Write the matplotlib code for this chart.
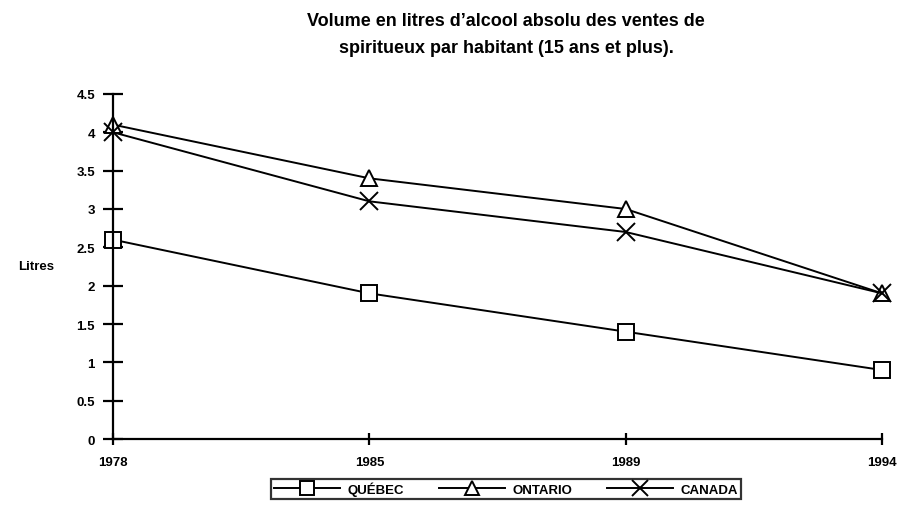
import matplotlib
matplotlib.use("Agg")
import matplotlib.pyplot as plt

plt.rcParams['font.family'] = ['Liberation Sans', 'DejaVu Sans']
plt.rcParams['font.weight'] = 'bold'

years = ['1978', '1985', '1989', '1994']
quebec = [2.6, 1.9, 1.4, 0.9]
ontario = [4.1, 3.4, 3.0, 1.9]
canada = [4.0, 3.1, 2.7, 1.9]

fig = plt.figure(figsize=(9.02, 5.06), dpi=100)
ax = fig.add_axes([0.1253, 0.1304, 0.8525, 0.6819])

x = range(len(years))
style = dict(color='black', lw=1.4, markerfacecolor='white',
             markeredgecolor='black', markeredgewidth=1.4, clip_on=False)
ax.plot(x, quebec, marker='s', markersize=12, label='QUÉBEC', **style)
ax.plot(x, ontario, marker='^', markersize=12, label='ONTARIO', **style)
ax.plot(x, canada, marker='x', markersize=13, label='CANADA', **style)

ax.set_xlim(0, 3)
ax.set_ylim(0, 4.5)
ax.set_xticks(list(x))
ax.set_xticklabels(years)
ax.set_yticks([0, 0.5, 1, 1.5, 2, 2.5, 3, 3.5, 4, 4.5])
ax.set_yticklabels(['0', '0.5', '1', '1.5', '2', '2.5', '3', '3.5', '4', '4.5'])

for s in ['top', 'right']:
    ax.spines[s].set_visible(False)
for s in ['left', 'bottom']:
    ax.spines[s].set_linewidth(1.6)
ax.tick_params(axis='y', direction='inout', length=14, width=1.6, labelsize=9.5, pad=6)
ax.tick_params(axis='x', direction='inout', length=8, width=1.6, labelsize=9.5, pad=8)

ax.set_ylabel('Litres', rotation=0, fontsize=9.5, fontweight='bold', ha='center', va='center')
ax.yaxis.set_label_coords(-0.1, 0.5)

fig.text(0.561, 0.931,
         "Volume en litres d\u2019alcool absolu des ventes de\nspiritueux par habitant (15 ans et plus).",
         ha='center', va='center', fontsize=13, fontweight='bold', linespacing=1.75)

leg = fig.legend(loc='center', bbox_to_anchor=(0.561, 0.032), ncol=3, fontsize=9.5,
                 frameon=True, fancybox=False, edgecolor='black', handlelength=5,
                 columnspacing=2.6, handletextpad=0.6, borderpad=0.2, markerscale=0.85)
leg.get_frame().set_linewidth(1.6)

fig.savefig('out.png', dpi=100, facecolor='white')
